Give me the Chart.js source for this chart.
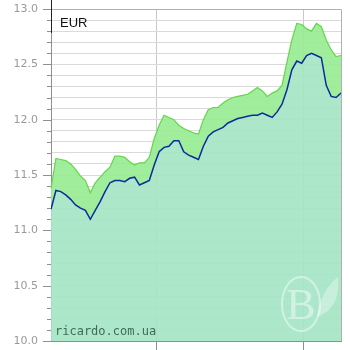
<!DOCTYPE html>
<html>
<head>
<meta charset="utf-8">
<script src="https://cdn.jsdelivr.net/npm/chart.js@4/dist/chart.umd.min.js"></script>
<style>
  html, body { margin: 0; padding: 0; background: #fff; }
  #wrap { width: 350px; height: 350px; position: relative; }
</style>
</head>
<body>
<div id="wrap"><canvas id="c"></canvas></div>
<script>
/* EUR buy/sell rates, daily, ~2 months */
const currency = 'EUR';
const watermark = 'ricardo.com.ua';

const buyRate = [
  11.19, 11.36, 11.35, 11.32, 11.28, 11.23, 11.20, 11.18, 11.10, 11.18,
  11.26, 11.35, 11.43, 11.45, 11.45, 11.44, 11.47, 11.48, 11.41, 11.43,
  11.45, 11.59, 11.71, 11.75, 11.76, 11.81, 11.81, 11.71, 11.68, 11.66,
  11.64, 11.76, 11.85, 11.89, 11.91, 11.93, 11.97, 11.99, 12.01, 12.02,
  12.03, 12.04, 12.04, 12.06, 12.04, 12.02, 12.07, 12.14, 12.27, 12.45,
  12.53, 12.51, 12.58, 12.60, 12.58, 12.56, 12.31, 12.21, 12.20, 12.24,
];
const sellRate = [
  11.38, 11.65, 11.64, 11.63, 11.60, 11.55, 11.49, 11.45, 11.34, 11.43,
  11.48, 11.53, 11.57, 11.67, 11.67, 11.66, 11.62, 11.59, 11.61, 11.61,
  11.66, 11.83, 11.95, 12.04, 12.02, 12.00, 11.95, 11.92, 11.90, 11.88,
  11.87, 12.00, 12.09, 12.11, 12.11, 12.15, 12.18, 12.20, 12.21, 12.22,
  12.23, 12.26, 12.29, 12.26, 12.21, 12.24, 12.26, 12.31, 12.52, 12.72,
  12.87, 12.86, 12.82, 12.80, 12.87, 12.84, 12.72, 12.63, 12.57, 12.58,
];
const days = buyRate.map((_, i) => i);
const monthStarts = [21.4, 51.3];   // vertical grid lines (month boundaries, in days)
const yTicks = [
  10.0, 10.1, 10.2, 10.3, 10.4, 10.5, 10.6, 10.7, 10.8, 10.9,
  11.0, 11.1, 11.2, 11.3, 11.4, 11.5, 11.6, 11.7, 11.8, 11.9,
  12.0, 12.1, 12.2, 12.3, 12.4, 12.5, 12.6, 12.7, 12.8, 12.9, 13.0,
];
const isMajor = (v) => Math.abs(v * 2 - Math.round(v * 2)) < 1e-6;

const AXIS = '#8f8f8f';
const GRID = '#dadada';

/* tick marks on the y axis, plot frame, label and watermarks */
const decor = {
  id: 'decor',
  afterDatasetsDraw(chart) {
    const { ctx, chartArea: a, scales: { y } } = chart;
    ctx.save();
    // frame top/right
    ctx.strokeStyle = '#b0b0b0'; ctx.lineWidth = 1;
    ctx.beginPath();
    ctx.moveTo(a.left, a.top + 0.5); ctx.lineTo(a.right + 0.5, a.top + 0.5);
    ctx.lineTo(a.right + 0.5, a.bottom);
    ctx.stroke();
    // y tick marks: long at 0.5, short at 0.1
    ctx.strokeStyle = AXIS;
    for (const v of yTicks) {
      const py = Math.round(y.getPixelForValue(v)) + 0.5;
      const len = isMajor(v) ? 8 : 4;
      ctx.beginPath(); ctx.moveTo(a.left - len, py); ctx.lineTo(a.left, py); ctx.stroke();
    }
    // axis top extension (label box edge)
    ctx.strokeStyle = '#222';
    ctx.beginPath(); ctx.moveTo(a.left + 0.5, 0); ctx.lineTo(a.left + 0.5, a.top + 24); ctx.stroke();

    // logo watermark
    const cx = a.right - 40, cy = a.bottom - 37;
    ctx.strokeStyle = 'rgba(255,255,255,0.45)'; ctx.lineWidth = 2;
    ctx.beginPath(); ctx.ellipse(cx, cy, 19, 27, 0, 0, Math.PI * 2); ctx.stroke();
    ctx.fillStyle = 'rgba(255,255,255,0.45)';
    ctx.font = '44px "Liberation Serif", serif';
    ctx.textAlign = 'center'; ctx.textBaseline = 'middle';
    ctx.fillText('B', cx, cy + 3);
    ctx.fillStyle = 'rgba(255,255,255,0.35)';
    ctx.beginPath();
    ctx.moveTo(cx + 16, cy + 13);
    ctx.quadraticCurveTo(cx + 20, cy - 14, cx + 37, cy - 27);
    ctx.quadraticCurveTo(cx + 40, cy + 4, cx + 16, cy + 13);
    ctx.fill();

    // currency label
    ctx.fillStyle = '#111';
    ctx.font = '13px "Liberation Sans", Arial, sans-serif';
    ctx.textAlign = 'left'; ctx.textBaseline = 'alphabetic';
    ctx.fillText(currency, a.left + 9, a.top + 18);

    // site watermark
    ctx.fillStyle = 'rgba(50,95,75,0.9)';
    ctx.font = '12px "DejaVu Sans Mono", monospace';
    ctx.fillText(watermark, a.left + 4, a.bottom - 6);
    ctx.restore();
  },
};

new Chart(document.getElementById('c'), {
  type: 'line',
  data: {
    labels: days,
    datasets: [
      { label: 'buy', data: buyRate, borderColor: '#0b2c9c', borderWidth: 1.5,
        backgroundColor: 'rgba(163,228,196,0.9)', fill: 'start', pointRadius: 0, tension: 0 },
      { label: 'sell', data: sellRate, borderColor: '#63d64a', borderWidth: 1.2,
        backgroundColor: 'rgba(150,236,145,0.9)', fill: '-1', pointRadius: 0, tension: 0 },
    ],
  },
  options: {
    responsive: true, maintainAspectRatio: false, animation: false,
    layout: { padding: { top: 9, right: 9, left: 0, bottom: 0 } },
    plugins: { legend: { display: false }, tooltip: { enabled: false } },
    scales: {
      x: {
        type: 'linear', min: 0, max: days.length - 1,
        afterBuildTicks: (s) => { s.ticks = monthStarts.map((v) => ({ value: v })); },
        afterFit: (s) => { s.height = 9; },
        grid: { color: '#c8c8c8', tickLength: 9, tickColor: AXIS },
        border: { color: AXIS },
        ticks: { display: false },
      },
      y: {
        min: 10, max: 13,
        afterBuildTicks: (s) => { s.ticks = yTicks.map((v) => ({ value: v })); },
        afterFit: (s) => { s.width = 51; },
        grid: { color: (c) => (c.tick && c.tick.value === 13 ? '#b0b0b0' : GRID),
                drawTicks: true, tickLength: 13, tickColor: 'rgba(0,0,0,0)' },
        border: { color: AXIS },
        ticks: {
          autoSkip: false, padding: 0, color: '#9a9a9a',
          font: { family: '"DejaVu Sans", Verdana, sans-serif', size: 11 },
          callback: (v) => (isMajor(v) ? v.toFixed(1) : ''),
        },
      },
    },
  },
  plugins: [decor],
});
</script>
</body>
</html>
